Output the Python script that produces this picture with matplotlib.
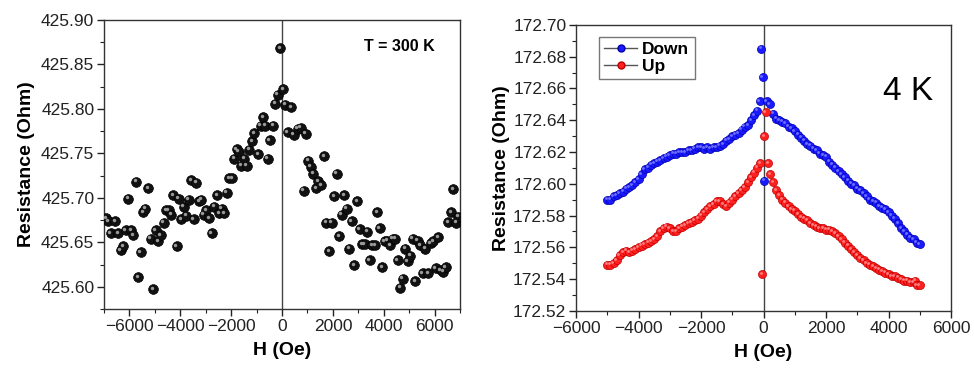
import numpy as np
import matplotlib
matplotlib.use("Agg")
import matplotlib.pyplot as plt
import matplotlib.transforms as mtransforms
from matplotlib.lines import Line2D
from matplotlib.ticker import MultipleLocator, FormatStrFormatter

plt.rcParams['font.family'] = ['Liberation Sans', 'DejaVu Sans']

# 300 K sweep (H in Oe, R in Ohm)
h_300 = [-6916, -6825, -6734, -6565, -6435, -6344, -6253, -6149, -6045, -5941,
         -5850, -5746, -5655, -5551, -5460, -5369, -5265, -5161, -5057, -4966,
         -4875, -4771, -4654, -4563, -4459, -4355, -4290, -4147, -4069, -3965,
         -3861, -3770, -3666, -3575, -3471, -3367, -3263, -3185, -3081, -2977,
         -2873, -2769, -2665, -2561, -2470, -2379, -2275, -2171, -2067, -1963,
         -1885, -1781, -1703, -1599, -1495, -1391, -1287, -1170, -1105, -949,
         -845, -741, -650, -559, -481, -351, -260, -169, -65, 39,
         130, 221, 351, 455, 611, 741, 845, 936, 1040, 1131,
         1235, 1339, 1430, 1534, 1651, 1729, 1859, 1950, 2041, 2145,
         2249, 2340, 2444, 2548, 2639, 2743, 2847, 2951, 3055, 3146,
         3250, 3341, 3445, 3549, 3653, 3731, 3835, 3939, 4043, 4147,
         4251, 4355, 4459, 4550, 4654, 4745, 4836, 4940, 5031, 5135,
         5239, 5343, 5434, 5525, 5629, 5746, 5850, 5941, 6045, 6149,
         6240, 6331, 6435, 6539, 6643, 6734, 6851, 6929]
r_300 = [425.677, 425.674, 425.660, 425.674, 425.660, 425.641, 425.646, 425.664, 425.699, 425.664,
         425.658, 425.718, 425.611, 425.639, 425.684, 425.688, 425.711, 425.654, 425.597, 425.664,
         425.651, 425.658, 425.672, 425.686, 425.686, 425.681, 425.703, 425.646, 425.699, 425.676,
         425.690, 425.680, 425.698, 425.720, 425.676, 425.717, 425.696, 425.698, 425.681, 425.686,
         425.677, 425.660, 425.690, 425.703, 425.683, 425.688, 425.683, 425.706, 425.722, 425.722,
         425.744, 425.755, 425.752, 425.736, 425.744, 425.736, 425.754, 425.764, 425.773, 425.749,
         425.781, 425.791, 425.781, 425.744, 425.765, 425.781, 425.806, 425.816, 425.868, 425.822,
         425.805, 425.774, 425.802, 425.771, 425.778, 425.779, 425.708, 425.772, 425.742, 425.735,
         425.727, 425.711, 425.719, 425.714, 425.747, 425.672, 425.640, 425.672, 425.702, 425.727,
         425.657, 425.681, 425.703, 425.688, 425.643, 425.674, 425.624, 425.696, 425.665, 425.648,
         425.648, 425.662, 425.630, 425.647, 425.647, 425.684, 425.666, 425.622, 425.651, 425.652,
         425.647, 425.654, 425.654, 425.630, 425.599, 425.609, 425.643, 425.629, 425.635, 425.654,
         425.606, 425.652, 425.647, 425.615, 425.643, 425.615, 425.649, 425.651, 425.621, 425.656,
         425.619, 425.617, 425.622, 425.673, 425.684, 425.710, 425.672, 425.679]

# 4 K sweeps
h_down = [-5000, -4900, -4800, -4700, -4600, -4500, -4400, -4300, -4200, -4100,
          -4000, -3900, -3800, -3700, -3600, -3500, -3400, -3300, -3200, -3100,
          -3000, -2900, -2800, -2700, -2600, -2500, -2400, -2300, -2200, -2100,
          -2000, -1900, -1800, -1700, -1600, -1500, -1400, -1300, -1200, -1100,
          -1000, -900, -800, -700, -600, -500, -400, -300, -200, -120,
          -80, -30, 20,
          100, 200, 300, 400, 500, 600, 700, 800, 900, 1000,
          1100, 1200, 1300, 1400, 1500, 1600, 1700, 1800, 1900, 2000,
          2100, 2200, 2300, 2400, 2500, 2600, 2700, 2800, 2900, 3000,
          3100, 3200, 3300, 3400, 3500, 3600, 3700, 3800, 3900, 4000,
          4100, 4200, 4300, 4400, 4500, 4600, 4700, 4800, 4900, 5000]
r_down = [172.590, 172.590, 172.592, 172.593, 172.594, 172.595, 172.597, 172.598, 172.599, 172.601,
          172.603, 172.606, 172.609, 172.610, 172.612, 172.613, 172.614, 172.615, 172.616, 172.617,
          172.618, 172.619, 172.619, 172.620, 172.620, 172.620, 172.621, 172.621, 172.622, 172.623,
          172.623, 172.622, 172.623, 172.622, 172.623, 172.623, 172.624, 172.625, 172.627, 172.628,
          172.630, 172.631, 172.632, 172.634, 172.636, 172.637, 172.640, 172.643, 172.646, 172.652,
          172.685, 172.667, 172.602,
          172.652, 172.650, 172.644, 172.641, 172.640, 172.639, 172.638, 172.636, 172.635, 172.633,
          172.631, 172.629, 172.627, 172.625, 172.624, 172.622, 172.621, 172.619, 172.618, 172.617,
          172.614, 172.612, 172.610, 172.608, 172.606, 172.604, 172.602, 172.600, 172.599, 172.597,
          172.596, 172.594, 172.592, 172.590, 172.589, 172.588, 172.586, 172.585, 172.584, 172.582,
          172.580, 172.578, 172.575, 172.572, 172.570, 172.568, 172.566, 172.565, 172.563, 172.562]

h_up = [-5000, -4900, -4800, -4700, -4600, -4500, -4400, -4300, -4200, -4100,
        -4000, -3900, -3800, -3700, -3600, -3500, -3400, -3300, -3200, -3100,
        -3000, -2900, -2800, -2700, -2600, -2500, -2400, -2300, -2200, -2100,
        -2000, -1900, -1800, -1700, -1600, -1500, -1400, -1300, -1200, -1100,
        -1000, -900, -800, -700, -600, -500, -400, -300, -200, -100,
        -40, 20, 70,
        150, 220, 300, 400, 500, 600, 700, 800, 900, 1000,
        1100, 1200, 1300, 1400, 1500, 1600, 1700, 1800, 1900, 2000,
        2100, 2200, 2300, 2400, 2500, 2600, 2700, 2800, 2900, 3000,
        3100, 3200, 3300, 3400, 3500, 3600, 3700, 3800, 3900, 4000,
        4100, 4200, 4300, 4400, 4500, 4600, 4700, 4800, 4850, 4900, 5000]
r_up = [172.549, 172.549, 172.550, 172.552, 172.555, 172.557, 172.558, 172.557, 172.558, 172.559,
        172.560, 172.561, 172.562, 172.563, 172.564, 172.565, 172.567, 172.570, 172.572, 172.573,
        172.572, 172.570, 172.570, 172.572, 172.573, 172.574, 172.575, 172.576, 172.577, 172.578,
        172.580, 172.582, 172.584, 172.586, 172.587, 172.589, 172.589, 172.587, 172.586, 172.588,
        172.590, 172.592, 172.594, 172.596, 172.598, 172.601, 172.604, 172.607, 172.610, 172.613,
        172.543, 172.630, 172.645,
        172.613, 172.606, 172.601, 172.596, 172.593, 172.590, 172.588, 172.586, 172.584, 172.583,
        172.581, 172.579, 172.578, 172.577, 172.575, 172.574, 172.573, 172.572, 172.572, 172.571,
        172.571, 172.570, 172.569, 172.567, 172.565, 172.563, 172.561, 172.559, 172.557, 172.555,
        172.553, 172.552, 172.550, 172.549, 172.548, 172.547, 172.546, 172.545, 172.544, 172.543,
        172.542, 172.542, 172.541, 172.540, 172.539, 172.539, 172.538, 172.538, 172.539, 172.536, 172.536]


def style_axes(ax):
    for s in ax.spines.values():
        s.set_color('#333333')
        s.set_linewidth(1.0)
    ax.tick_params(which='both', direction='out', labelsize=12.5, colors='#222222', pad=2)
    ax.tick_params(which='major', length=5, width=1)
    ax.tick_params(which='minor', length=3, width=0.8)
    ax.axvline(0, color='#444444', lw=1.0, zorder=1)


def plot_balls(ax, x, y, color, hl, ms, edge):
    ax.plot(x, y, 'o', ms=ms, mfc=color, mec=edge, mew=0.5, zorder=3)
    # small highlight to give the markers a shaded look
    off = mtransforms.offset_copy(ax.transData, fig=ax.figure, x=-1.0, y=1.0, units='points')
    ax.plot(x, y, 'o', ms=ms * 0.35, mfc=hl, mec='none', transform=off, zorder=4)


fig = plt.figure(figsize=(9.74, 3.71), dpi=100)

# left panel: 300 K
ax1 = fig.add_axes([0.1068, 0.167, 0.3655, 0.779])
style_axes(ax1)
plot_balls(ax1, h_300, r_300, '#111111', '#9a9a9a', 7, '#000000')
ax1.set_xlim(-7000, 7000)
ax1.set_ylim(425.575, 425.90)
ax1.xaxis.set_major_locator(MultipleLocator(2000))
ax1.xaxis.set_minor_locator(MultipleLocator(1000))
ax1.yaxis.set_major_locator(MultipleLocator(0.05))
ax1.yaxis.set_minor_locator(MultipleLocator(0.025))
ax1.yaxis.set_major_formatter(FormatStrFormatter('%.2f'))
ax1.set_xlabel('H (Oe)', fontsize=14, fontweight='bold', labelpad=6)
ax1.set_ylabel('Resistance (Ohm)', fontsize=14, fontweight='bold', labelpad=4)
ax1.text(0.829, 0.907, 'T = 300 K', transform=ax1.transAxes, fontsize=11.5,
         fontweight='bold', ha='center', va='center')

# right panel: 4 K
ax2 = fig.add_axes([0.5914, 0.162, 0.385, 0.771])
style_axes(ax2)
plot_balls(ax2, h_down, r_down, '#1a1aff', '#7070ff', 5.8, '#0000b0')
plot_balls(ax2, h_up, r_up, '#ff2020', '#ff8080', 5.8, '#c00000')
ax2.set_xlim(-6000, 6000)
ax2.set_ylim(172.52, 172.70)
ax2.xaxis.set_major_locator(MultipleLocator(2000))
ax2.xaxis.set_minor_locator(MultipleLocator(1000))
ax2.yaxis.set_major_locator(MultipleLocator(0.02))
ax2.yaxis.set_minor_locator(MultipleLocator(0.01))
ax2.yaxis.set_major_formatter(FormatStrFormatter('%.2f'))
ax2.set_xlabel('H (Oe)', fontsize=14, fontweight='bold', labelpad=6)
ax2.set_ylabel('Resistance (Ohm)', fontsize=14, fontweight='bold', labelpad=2)
ax2.text(0.885, 0.766, '4 K', transform=ax2.transAxes, fontsize=24,
         ha='center', va='center')

handles = [
    Line2D([0], [0], color='#555555', lw=1, marker='o', ms=5, mfc='#1a1aff', mec='#0000b0'),
    Line2D([0], [0], color='#555555', lw=1, marker='o', ms=5, mfc='#ff2020', mec='#c00000'),
]
leg = ax2.legend(handles, ['Down', 'Up'], loc='upper left', bbox_to_anchor=(0.061, 0.958),
                 borderaxespad=0, fancybox=False, framealpha=1, edgecolor='#777777',
                 prop={'weight': 'bold', 'size': 12.5}, handlelength=1.9,
                 handletextpad=0.3, labelspacing=0.1, borderpad=0.3)
leg.get_frame().set_linewidth(1.0)

fig.savefig('out.png', dpi=100)
